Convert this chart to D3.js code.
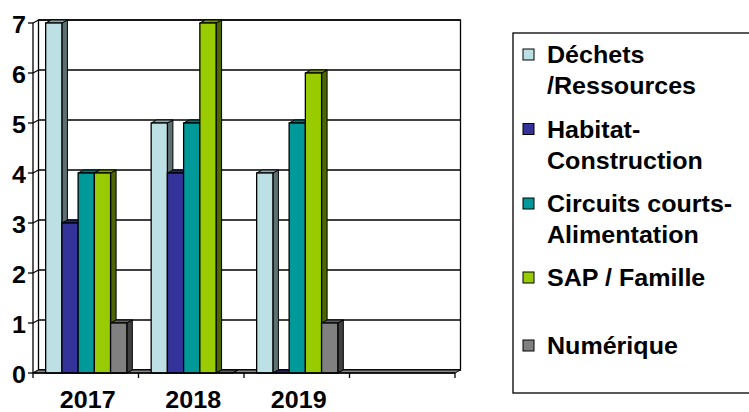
<!DOCTYPE html>
<html><head><meta charset="utf-8">
<script src="https://cdn.jsdelivr.net/npm/d3@7"></script>
<style>
body{margin:0;background:#fff}
svg{display:block}
text{font-family:"Liberation Sans",Arial,sans-serif;font-weight:bold;font-size:23px;fill:#000}
</style>
</head><body><div id="chart"></div><script>
const categories = ["2017","2018","2019",""];
const seriesNames = ["Déchets /Ressources","Habitat-Construction","Circuits courts-Alimentation","SAP / Famille","Numérique"];
const legendLines = [["Déchets","/Ressources"],["Habitat-","Construction"],["Circuits courts-","Alimentation"],["SAP / Famille"],["Numérique"]];
const dechets   = [7, 5, 4, null];
const habitat   = [3, 4, 0, null];
const circuits  = [4, 5, 5, null];
const sap       = [4, 7, 6, null];
const numerique = [1, 0, 1, null];
const yTicks = [0,1,2,3,4,5,6,7];
const colors = ["#BDE0E4","#333399","#009999","#99CC00","#808080"];

const seriesValues = [dechets, habitat, circuits, sap, numerique];
const W = 749, H = 412;
const DX = 5.5, DY = 3;
const SX = 1.09;

const svg = d3.select("#chart").append("svg").attr("width", W).attr("height", H);

const x0 = d3.scaleBand().domain(categories).range([33, 455]).paddingInner(0).paddingOuter(0);
const bw = x0.bandwidth();
const x1 = d3.scaleBand().domain(seriesNames).range([bw*0.12, bw*0.12 + bw*5/6.5]);
const y = d3.scaleLinear().domain([0, 7]).range([373, 23]);

const poly = pts => "M" + pts.map(p => p.join(",")).join("L") + "Z";
const shade = (c, k) => d3.interpolateRgb(c, "#000")(k);

// back wall
const bx0 = 33 + DX, bx1 = 455 + DX;
svg.append("rect").attr("x", bx0).attr("y", y(7) - DY).attr("width", bx1 - bx0).attr("height", y(0) - y(7))
  .attr("fill", "#fff").attr("stroke", "#000").attr("stroke-width", 1.3);
yTicks.forEach(t => {
  svg.append("line").attr("x1", bx0).attr("x2", bx1).attr("y1", y(t) - DY).attr("y2", y(t) - DY)
    .attr("stroke", "#000").attr("stroke-width", 1.3);
  svg.append("line").attr("x1", 33).attr("x2", bx0).attr("y1", y(t)).attr("y2", y(t) - DY)
    .attr("stroke", "#000").attr("stroke-width", 1.1);
});
// floor
svg.append("path").attr("d", poly([[33, y(0)], [455, y(0)], [455 + DX, y(0) - DY], [bx0, y(0) - DY]]))
  .attr("fill", "#8a8a8a").attr("stroke", "#000").attr("stroke-width", 1);

// bars
categories.forEach((cat, ci) => {
  seriesNames.forEach((s, si) => {
    const v = seriesValues[si][ci];
    if (v === null || v === undefined) return;
    const xa = x0(cat) + x1(s), xb = xa + x1.bandwidth();
    const yt = y(v), yb = y(0);
    const g = svg.append("g");
    const col = colors[si];
    g.append("path").attr("d", poly([[xb, yt], [xb + DX, yt - DY], [xb + DX, yb - DY], [xb, yb]]))
      .attr("fill", shade(col, 0.5)).attr("stroke", "#000").attr("stroke-width", 1);
    g.append("path").attr("d", poly([[xa, yt], [xa + DX, yt - DY], [xb + DX, yt - DY], [xb, yt]]))
      .attr("fill", shade(col, v === 0 ? 0.3 : 0.25)).attr("stroke", "#000").attr("stroke-width", 1);
    if (v > 0) {
      g.append("rect").attr("x", xa).attr("y", yt).attr("width", xb - xa).attr("height", yb - yt)
        .attr("fill", col).attr("stroke", "#000").attr("stroke-width", 1.3);
    }
  });
});

// front axes
svg.append("line").attr("x1", 33).attr("x2", 33).attr("y1", y(7)).attr("y2", y(0)).attr("stroke", "#000").attr("stroke-width", 1.3);
svg.append("line").attr("x1", 33).attr("x2", 455).attr("y1", y(0)).attr("y2", y(0)).attr("stroke", "#000").attr("stroke-width", 1.3);
yTicks.forEach(t => {
  svg.append("line").attr("x1", 28).attr("x2", 33).attr("y1", y(t)).attr("y2", y(t)).attr("stroke", "#000").attr("stroke-width", 1.3);
  svg.append("text").attr("text-anchor", "end")
    .attr("transform", `translate(26,${y(t) + 10}) scale(${SX},1)`).text(t);
});
categories.forEach(cat => {
  svg.append("line").attr("x1", x0(cat)).attr("x2", x0(cat)).attr("y1", y(0)).attr("y2", y(0) + 5).attr("stroke", "#000").attr("stroke-width", 1.3);
  if (cat) svg.append("text").attr("text-anchor", "middle")
    .attr("transform", `translate(${x0(cat) + bw/2 + 2},408) scale(${SX},1)`).text(cat);
});
svg.append("line").attr("x1", 455).attr("x2", 455).attr("y1", y(0)).attr("y2", y(0) + 5).attr("stroke", "#000").attr("stroke-width", 1.3);

// legend
svg.append("rect").attr("x", 513).attr("y", 33).attr("width", 260).attr("height", 360)
  .attr("fill", "#fff").attr("stroke", "#000").attr("stroke-width", 1.3);
const legendTops = [49, 123.5, 198, 272, 340];
legendLines.forEach((lines, i) => {
  const top = legendTops[i];
  svg.append("rect").attr("x", 523).attr("y", top).attr("width", 11).attr("height", 11)
    .attr("fill", colors[i]).attr("stroke", "#000").attr("stroke-width", 1);
  lines.forEach((ln, j) => {
    svg.append("text").attr("transform", `translate(547,${top + 14 + j * 31}) scale(${SX},1)`).text(ln);
  });
});
</script></body></html>
